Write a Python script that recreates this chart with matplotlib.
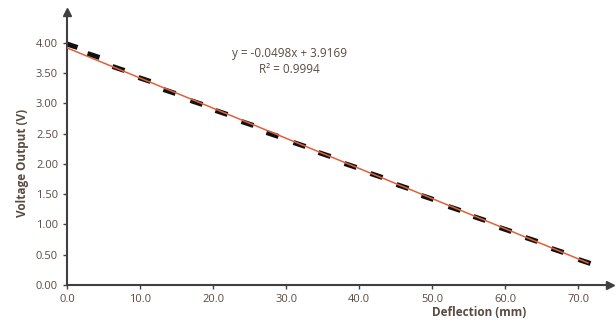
import matplotlib.pyplot as plt
import numpy as np
from matplotlib.markers import MarkerStyle
from matplotlib.transforms import Affine2D

# 数据
deflection = [0.5, 3.6, 7.0, 10.5, 14.0, 17.6, 21.1, 24.6, 28.1, 31.7, 35.2,
              38.7, 42.3, 45.8, 49.3, 52.9, 56.4, 59.9, 63.5, 67.0, 70.8]
voltage = [3.97, 3.80, 3.59, 3.40, 3.21, 3.03, 2.86, 2.68, 2.50, 2.33, 2.16,
           1.98, 1.81, 1.63, 1.46, 1.28, 1.11, 0.93, 0.76, 0.58, 0.40]
fit_slope = -0.0498
fit_intercept = 3.9169
fit_r2 = 0.9994
xticks = [0, 10, 20, 30, 40, 50, 60, 70]
yticks = [0, 0.5, 1, 1.5, 2, 2.5, 3, 3.5, 4]

plt.rcParams['font.family'] = ['Open Sans', 'DejaVu Sans']
text_color = '#5a4a42'
axis_color = '#404040'

fig = plt.figure(figsize=(6.16, 3.25), dpi=100)
ax = fig.add_axes([0.109, 0.123, 0.881, 0.84])
ax.set_xlim(0, 74.3)
ax.set_ylim(0, 4.51)

# 数据点（短划线标记，沿趋势方向）
dash = MarkerStyle('_', transform=Affine2D().rotate_deg(-22))
ax.plot(deflection, voltage, linestyle='none', marker=dash, markersize=9.5,
        markeredgewidth=3.6, color='#111111', zorder=2)

# 拟合线
fx = np.array([0, 71.3])
ax.plot(fx, fit_slope * fx + fit_intercept, color='#e0603a', lw=1.1, zorder=3)

for s in ['top', 'right']:
    ax.spines[s].set_visible(False)
for s in ['left', 'bottom']:
    ax.spines[s].set_color(axis_color)
    ax.spines[s].set_linewidth(1.5)

# 坐标轴箭头
ax.plot(1, 0, '>', color=axis_color, markersize=6, transform=ax.transAxes, clip_on=False)
ax.plot(0, 1, '^', color=axis_color, markersize=6, transform=ax.transAxes, clip_on=False)

ax.set_xticks(xticks)
ax.set_xticklabels([f'{v:.1f}' for v in xticks])
ax.set_yticks(yticks)
ax.set_yticklabels([f'{v:.2f}' for v in yticks])
ax.tick_params(colors=axis_color, labelcolor=text_color, labelsize=8, length=3, width=1)

fig.text(0.036, 0.50, 'Voltage Output (V)', rotation=90, ha='center', va='center',
         fontsize=8.5, fontweight='bold', color=text_color)
fig.text(0.778, 0.04, 'Deflection (mm)', ha='center', va='center',
         fontsize=8.5, fontweight='bold', color=text_color)

fig.text(0.47, 0.836, f'y = {fit_slope}x + {fit_intercept}', ha='center', va='center',
         fontsize=8.5, color=text_color)
fig.text(0.47, 0.787, f'R² = {fit_r2}', ha='center', va='center',
         fontsize=8.5, color=text_color)

plt.savefig('out.png', dpi=100)
